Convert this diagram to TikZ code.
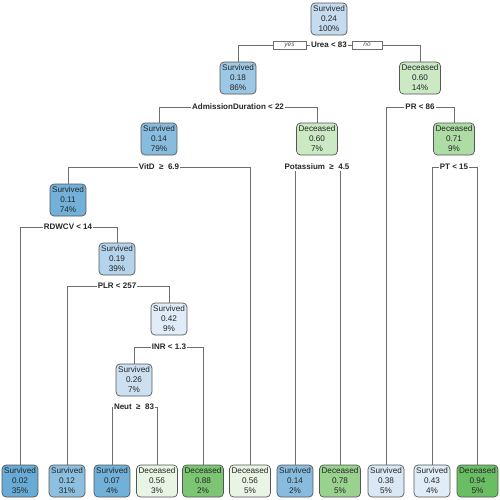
\documentclass[tikz,border=0pt]{standalone}
\usepackage{fontspec}
\setmainfont{Liberation Sans}
\definecolor{bcol}{HTML}{555555}
\definecolor{ccol}{HTML}{6E6E6E}
\definecolor{S02}{HTML}{67ABD6}
\definecolor{S07}{HTML}{70B0D9}
\definecolor{S11}{HTML}{72B1D9}
\definecolor{S12}{HTML}{8DBFE1}
\definecolor{S14}{HTML}{88BCDF}
\definecolor{S18}{HTML}{9DC8E5}
\definecolor{S19}{HTML}{B4D4EC}
\definecolor{S24}{HTML}{C4DBF0}
\definecolor{S26}{HTML}{CCE0F2}
\definecolor{S38}{HTML}{DAE8F6}
\definecolor{S42}{HTML}{E0ECF8}
\definecolor{D56}{HTML}{E9F5E4}
\definecolor{D60}{HTML}{CBEAC4}
\definecolor{D71}{HTML}{ADDCA4}
\definecolor{D78}{HTML}{98D28E}
\definecolor{D88}{HTML}{7CC572}
\definecolor{D94}{HTML}{69BD62}
\begin{document}
\begin{tikzpicture}[x=1pt,y=-1pt,
  nodebox/.style={draw=bcol, line width=0.7pt, rounded corners=4pt, align=center,
    font=\fontsize{8.2}{10}\selectfont, text=black!85, inner xsep=2pt, inner ysep=1pt,
    minimum height=32pt},
  splitlab/.style={font=\bfseries\fontsize{8}{9}\selectfont, text=black!85, inner xsep=0.8pt, inner ysep=1pt},
  yn/.style={draw=ccol, line width=0.5pt, fill=white, font=\itshape\fontsize{6.5}{7}\selectfont,
    text=black!70, minimum height=8pt, inner sep=0pt},
  conn/.style={draw=ccol, line width=0.8pt}]
\fill[white] (0,0) rectangle (500,499);
\useasboundingbox (0,0) rectangle (500,499);
% internal nodes
\node[nodebox, fill=S24] (n1) at (329,19) {Survived\\0.24\\100\%};
\node[nodebox, fill=S18] (n2) at (238,78) {Survived\\0.18\\86\%};
\node[nodebox, fill=D60] (n3) at (420,78) {Deceased\\0.60\\14\%};
\node[nodebox, fill=S14] (n4) at (159,139) {Survived\\0.14\\79\%};
\node[nodebox, fill=D60] (n5) at (317,139) {Deceased\\0.60\\7\%};
\node[nodebox, fill=D71] (n10) at (454,139) {Deceased\\0.71\\9\%};
\node[nodebox, fill=S11] (n6) at (68,200) {Survived\\0.11\\74\%};
\node[nodebox, fill=S19] (n7) at (117,259) {Survived\\0.19\\39\%};
\node[nodebox, fill=S42] (n8) at (169,319) {Survived\\0.42\\9\%};
\node[nodebox, fill=S26] (n9) at (134,380) {Survived\\0.26\\7\%};
% leaves
\node[nodebox, fill=S02] (L1) at (20,481) {Survived\\0.02\\35\%};
\node[nodebox, fill=S12] (L2) at (67,481) {Survived\\0.12\\31\%};
\node[nodebox, fill=S07] (L3) at (112,481) {Survived\\0.07\\4\%};
\node[nodebox, fill=D56] (L4) at (157,481) {Deceased\\0.56\\3\%};
\node[nodebox, fill=D88] (L5) at (203,481) {Deceased\\0.88\\2\%};
\node[nodebox, fill=D56] (L6) at (250,481) {Deceased\\0.56\\5\%};
\node[nodebox, fill=S14] (L7) at (295,481) {Survived\\0.14\\2\%};
\node[nodebox, fill=D78] (L8) at (340,481) {Deceased\\0.78\\5\%};
\node[nodebox, fill=S38] (L9) at (386,481) {Survived\\0.38\\5\%};
\node[nodebox, fill=S42] (L10) at (432,481) {Survived\\0.43\\4\%};
\node[nodebox, fill=D94] (L11) at (477.5,481) {Deceased\\0.94\\5\%};
% split labels
\node[splitlab] (s1) at (329,45) {Urea < 83};
\node[yn, minimum width=33pt] (yes) at (289.5,45) {yes};
\node[yn, minimum width=30pt] (no) at (367,45) {no};
\node[splitlab] (s2) at (238,107) {AdmissionDuration < 22};
\node[splitlab] (s3) at (420,107) {PR < 86};
\node[splitlab] (s4) at (159,167) {VitD~~≥~~6.9};
\node[splitlab] (s5) at (317,167) {Potassium~~≥~~4.5};
\node[splitlab] (s6) at (454,167) {PT < 15};
\node[splitlab] (s7) at (68,227) {RDWCV < 14};
\node[splitlab] (s8) at (117,286) {PLR < 257};
\node[splitlab] (s9) at (169,347) {INR < 1.3};
\node[splitlab] (s10) at (134,407) {Neut~~≥~~83};
% connectors
\draw[conn] (yes.west) -| (n2.north);
\draw[conn] (yes.east) -- (s1.west);
\draw[conn] (s1.east) -- (no.west);
\draw[conn] (no.east) -| (n3.north);
\draw[conn] (s2.west) -| (n4.north);
\draw[conn] (s2.east) -| (n5.north);
\draw[conn] (s3.west) -| (L9.north);
\draw[conn] (s3.east) -| (n10.north);
\draw[conn] (s4.west) -| (n6.north);
\draw[conn] (s4.east) -| (L6.north);
\draw[conn] (s5.south -| L7.north) -- (L7.north);
\draw[conn] (s5.south -| L8.north) -- (L8.north);
\draw[conn] (s6.west) -| (L10.north);
\draw[conn] (s6.east) -| (L11.north);
\draw[conn] (s7.west) -| (L1.north);
\draw[conn] (s7.east) -| (n7.north);
\draw[conn] (s8.west) -| (L2.north);
\draw[conn] (s8.east) -| (n8.north);
\draw[conn] (s9.west) -| (n9.north);
\draw[conn] (s9.east) -| (L5.north);
\draw[conn] (s10.west) -| (L3.north);
\draw[conn] (s10.east) -| (L4.north);
\end{tikzpicture}
\end{document}
